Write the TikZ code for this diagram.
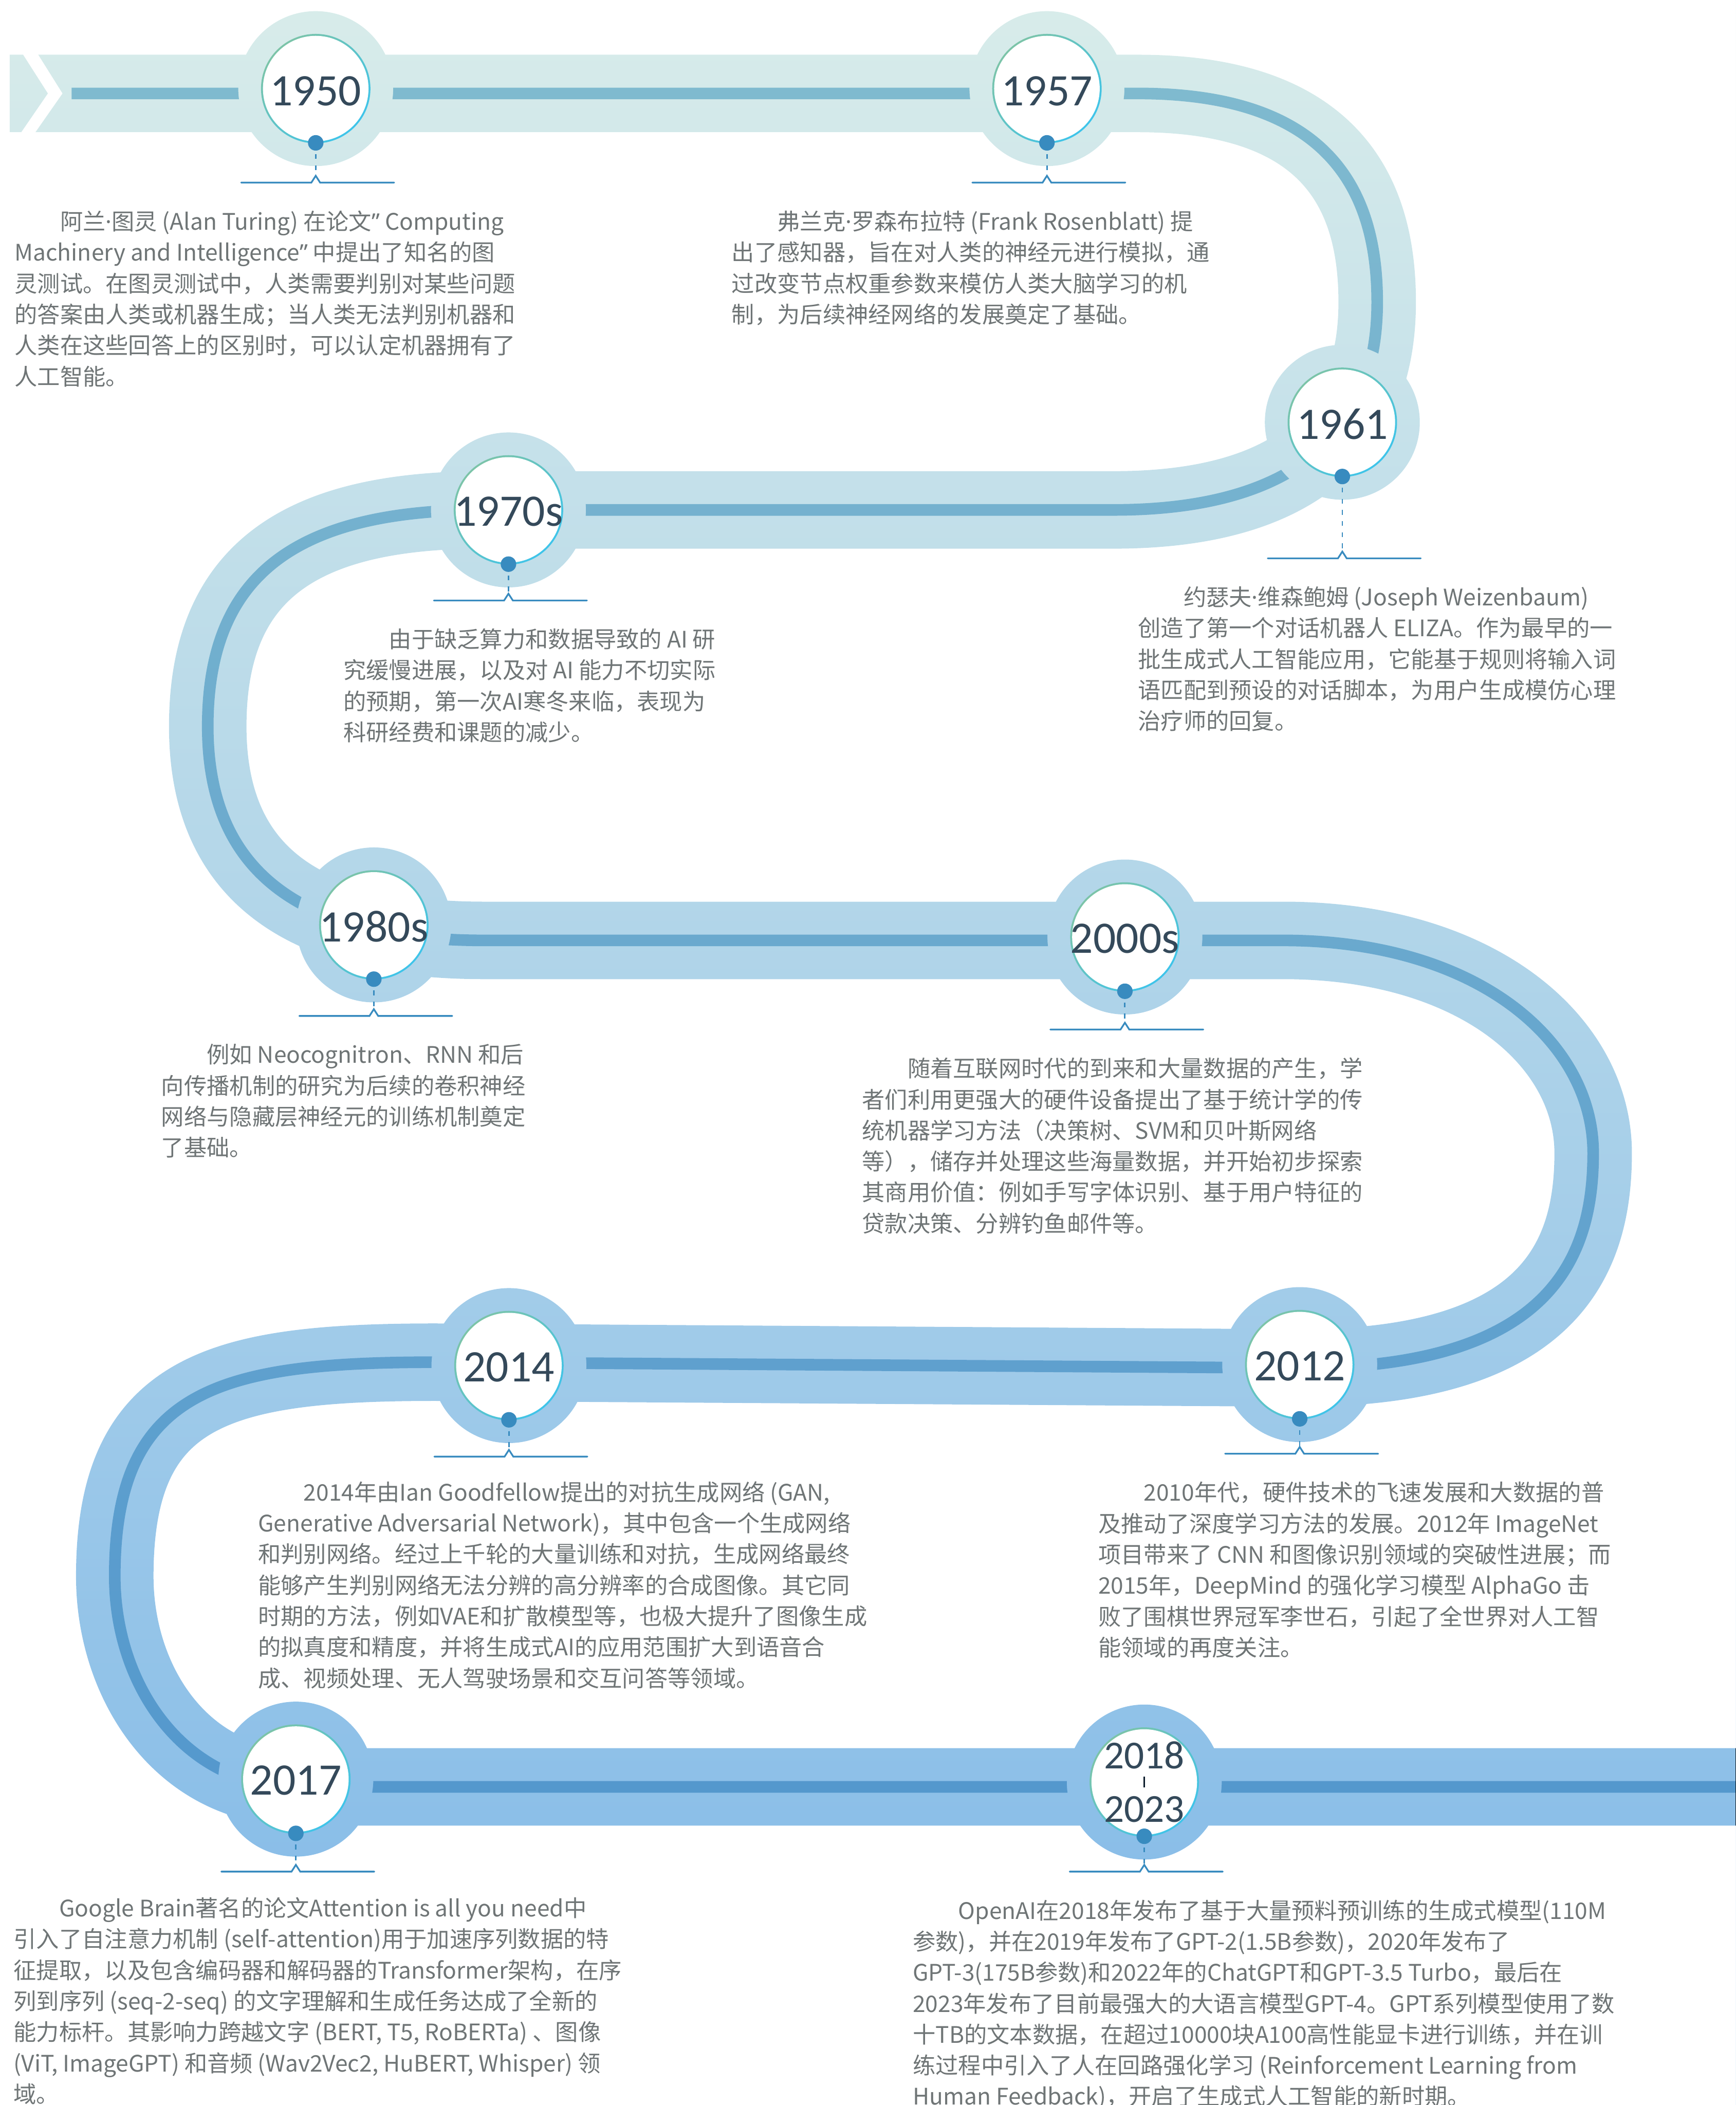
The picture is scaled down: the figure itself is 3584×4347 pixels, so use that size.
\documentclass[tikz,border=0pt]{standalone}
\usepackage{fontspec}
\setmainfont{Noto Sans CJK SC}
\newfontfamily\lf{Noto Sans}
\newfontfamily\yearfont{Carlito}
\usetikzlibrary{calc}
\definecolor{bandA}{RGB}{216,236,234}
\definecolor{bandB}{RGB}{128,184,232}
\definecolor{stripeM}{RGB}{153,203,226}
\definecolor{ringgreen}{RGB}{124,196,168}
\definecolor{ringcyan}{RGB}{62,196,234}
\definecolor{dotblue}{RGB}{56,139,191}
\definecolor{yeartext}{RGB}{52,73,90}
\definecolor{bodytext}{RGB}{111,117,118}
\definecolor{barcol}{RGB}{10,26,42}
\newcommand\md{{\lf ·}}
\tikzset{
  yearcircle/.style={circle, minimum size=222pt, inner sep=0pt, text=yeartext, font=\yearfont\fontsize{93}{93}\selectfont},
  dotnode/.style={circle, fill=dotblue, minimum size=32pt, inner sep=0pt},
  dashline/.style={draw=dotblue, line width=3pt, dash pattern=on 10pt off 13pt, dash phase=16pt},
  bracketline/.style={draw=dotblue, line width=3.5pt, line cap=round, line join=miter},
  bodyblock/.style={anchor=north west, inner sep=0pt, align=left, text=bodytext, font=\fontsize{47}{64}\selectfont},
  bandline/.style={line width=160pt, line join=round},
  stripeline/.style={line width=24pt, line join=round},
}
\newcommand\milestone[6][]{%
  \shade[left color=ringgreen, right color=ringcyan, shading angle=45] (#3,#4) circle[radius=113pt];
  \fill[white] (#3,#4) circle[radius=109pt];
  \node[yearcircle,#1] (c#2) at (#3,#4) {#5};
  \node[dotnode] (d#2) at (#3,#4+112) {};
  \coordinate (p#2) at (#3,#6-14);
  \draw[dashline] (d#2.south) -- (p#2);
  \draw[bracketline] ($(p#2)+(-154,14)$) -- ($(p#2)+(-9,14)$) -- (p#2) -- ($(p#2)+(9,14)$) -- ($(p#2)+(162,14)$);
}
\begin{document}
\begin{tikzpicture}[x=1pt,y=-1pt]
\useasboundingbox (0,0) rectangle (3584,4347);
\coordinate (hA) at (652,183);
\coordinate (hB) at (2162,183);
\coordinate (hC) at (2772,872);
\coordinate (hD) at (1050,1053);
\coordinate (hE) at (772,1910);
\coordinate (hF) at (2323,1935);
\coordinate (hG) at (2684,2818);
\coordinate (hH) at (1051,2820);
\coordinate (hI) at (611,3674);
\coordinate (hJ) at (2363,3680);
% background
\fill[white] (0,0) rectangle (3584,4347);
% road mask in black
\draw[bandline, black] (20,193) -- (2350,193)
  .. controls (2750,193) and (2844,400) .. (2844,624)
  .. controls (2844,950) and (2600,1053) .. (2300,1053) -- (1000,1053)
  .. controls (620,1053) and (429,1180) .. (429,1500)
  .. controls (429,1800) and (620,1942) .. (1000,1942) -- (2650,1942)
  .. controls (3050,1942) and (3290,2150) .. (3290,2381)
  .. controls (3290,2600) and (3200,2825) .. (2684,2825) -- (900,2813)
  .. controls (450,2813) and (237,2870) .. (237,3255)
  .. controls (237,3480) and (380,3690) .. (611,3690) -- (3620,3690);
\fill[black] (hA) circle[radius=160pt] (hB) circle[radius=160pt] (hC) circle[radius=160pt]
  (hD) circle[radius=160pt] (hE) circle[radius=160pt] (hF) circle[radius=160pt]
  (hG) circle[radius=160pt] (hH) circle[radius=160pt] (hI) circle[radius=160pt]
  (hJ) circle[radius=160pt];
% colour the road with a vertical gradient
\begin{scope}[blend mode=screen]
  \shade[top color=bandA, bottom color=bandB] (0,0) rectangle (3584,4347);
\end{scope}
% centre stripe, interrupted by the halos
\begin{scope}[even odd rule]
  \clip (-50,-50) rectangle (3650,4400)
    (hA) circle[radius=160pt] (hB) circle[radius=160pt] (hC) circle[radius=160pt]
    (hD) circle[radius=160pt] (hE) circle[radius=160pt] (hF) circle[radius=160pt]
    (hG) circle[radius=160pt] (hH) circle[radius=160pt] (hI) circle[radius=160pt]
    (hJ) circle[radius=160pt];
  \begin{scope}[blend mode=multiply]
  \draw[stripeline, stripeM] (148,193) -- (2350,193)
    .. controls (2750,193) and (2844,400) .. (2844,624)
    .. controls (2844,950) and (2600,1053) .. (2300,1053) -- (1000,1053)
    .. controls (620,1053) and (429,1180) .. (429,1500)
    .. controls (429,1800) and (620,1942) .. (1000,1942) -- (2650,1942)
    .. controls (3050,1942) and (3290,2150) .. (3290,2381)
    .. controls (3290,2600) and (3200,2825) .. (2684,2825) -- (900,2813)
    .. controls (450,2813) and (237,2870) .. (237,3255)
    .. controls (237,3480) and (380,3690) .. (611,3690) -- (3620,3690);
  \end{scope}
\end{scope}
% start chevron
\fill[white] (46,110) -- (99,193) -- (42,276) -- (71,276) -- (129,193) -- (77,110) -- cycle;
% milestones
\milestone[yshift=-5pt]{A}{652}{183}{1950}{377}
\milestone[yshift=-5pt]{B}{2162}{183}{1957}{377}
\milestone[yshift=-4pt]{C}{2772}{872}{1961}{1153}
\milestone[yshift=-3pt]{D}{1050}{1053}{1970s}{1240}
\milestone[yshift=-3pt]{E}{772}{1910}{1980s}{2098}
\milestone[yshift=-3pt]{F}{2323}{1935}{2000s}{2126}
\milestone[yshift=-3pt]{G}{2684}{2818}{2012}{3002}
\milestone[yshift=-3pt]{H}{1051}{2820}{2014}{3008}
\milestone[yshift=-3pt]{I}{611}{3674}{2017}{3865}
\milestone[align=center, font=\yearfont\fontsize{82}{55.5}\selectfont]{J}{2363}{3680}{2018\\\textcolor{barcol}{\rule[16.5pt]{4pt}{22pt}}\\2023}{3865}
% texts
\node[bodyblock] (tA) at (30,435) {\hspace*{2em}阿兰\md 图灵 (Alan Turing) 在论文{\lf ”}\ Computing\\Machinery and Intelligence{\lf ”}\ 中提出了知名的图\\灵测试。在图灵测试中，人类需要判别对某些问题\\的答案由人类或机器生成；当人类无法判别机器和\\人类在这些回答上的区别时，可以认定机器拥有了\\人工智能。};
\node[bodyblock] (tB) at (1511,435) {\hspace*{2em}弗兰克\md 罗森布拉特 (Frank Rosenblatt) 提\\出了感知器，旨在对人类的神经元进行模拟，通\\过改变节点权重参数来模仿人类大脑学习的机\\制，为后续神经网络的发展奠定了基础。};
\node[bodyblock] (tC) at (2350,1211) {\hspace*{2em}约瑟夫\md 维森鲍姆 (Joseph Weizenbaum)\\创造了第一个对话机器人 ELIZA。作为最早的一\\批生成式人工智能应用，它能基于规则将输入词\\语匹配到预设的对话脚本，为用户生成模仿心理\\治疗师的回复。};
\node[bodyblock] (tD) at (709,1298) {\hspace*{2em}由于缺乏算力和数据导致的 AI 研\\究缓慢进展，以及对 AI 能力不切实际\\的预期，第一次AI寒冬来临，表现为\\科研经费和课题的减少。};
\node[bodyblock] (tE) at (333,2156) {\hspace*{2em}例如 Neocognitron、RNN 和后\\向传播机制的研究为后续的卷积神经\\网络与隐藏层神经元的训练机制奠定\\了基础。};
\node[bodyblock] (tF) at (1780,2184) {\hspace*{2em}随着互联网时代的到来和大量数据的产生，学\\者们利用更强大的硬件设备提出了基于统计学的传\\统机器学习方法（决策树、SVM和贝叶斯网络\\等），储存并处理这些海量数据，并开始初步探索\\其商用价值：例如手写字体识别、基于用户特征的\\贷款决策、分辨钓鱼邮件等。};
\node[bodyblock] (tG) at (2268,3060) {\hspace*{2em}2010年代，硬件技术的飞速发展和大数据的普\\及推动了深度学习方法的发展。2012年 ImageNet\\项目带来了 CNN 和图像识别领域的突破性进展；而\\2015年，DeepMind 的强化学习模型 AlphaGo 击\\败了围棋世界冠军李世石，引起了全世界对人工智\\能领域的再度关注。};
\node[bodyblock] (tH) at (533,3059) {\hspace*{2em}2014年由Ian Goodfellow提出的对抗生成网络 (GAN,\\Generative Adversarial Network)，其中包含一个生成网络\\和判别网络。经过上千轮的大量训练和对抗，生成网络最终\\能够产生判别网络无法分辨的高分辨率的合成图像。其它同\\时期的方法，例如VAE和扩散模型等，也极大提升了图像生成\\的拟真度和精度，并将生成式AI的应用范围扩大到语音合\\成、视频处理、无人驾驶场景和交互问答等领域。};
\node[bodyblock] (tI) at (28,3918) {\hspace*{2em}Google Brain著名的论文Attention is all you need中\\引入了自注意力机制 (self-attention)用于加速序列数据的特\\征提取，以及包含编码器和解码器的Transformer架构，在序\\列到序列 (seq-2-seq) 的文字理解和生成任务达成了全新的\\能力标杆。其影响力跨越文字 (BERT, T5, RoBERTa) 、图像\\(ViT, ImageGPT) 和音频 (Wav2Vec2, HuBERT, Whisper) 领\\域。};
\node[bodyblock] (tJ) at (1885,3923) {\hspace*{2em}OpenAI在2018年发布了基于大量预料预训练的生成式模型(110M\\参数)，并在2019年发布了GPT-2(1.5B参数)，2020年发布了\\GPT-3(175B参数)和2022年的ChatGPT和GPT-3.5 Turbo，最后在\\2023年发布了目前最强大的大语言模型GPT-4。GPT系列模型使用了数\\十TB的文本数据，在超过10000块A100高性能显卡进行训练，并在训\\练过程中引入了人在回路强化学习 (Reinforcement Learning from\\Human Feedback)，开启了生成式人工智能的新时期。};
\end{tikzpicture}
\end{document}
